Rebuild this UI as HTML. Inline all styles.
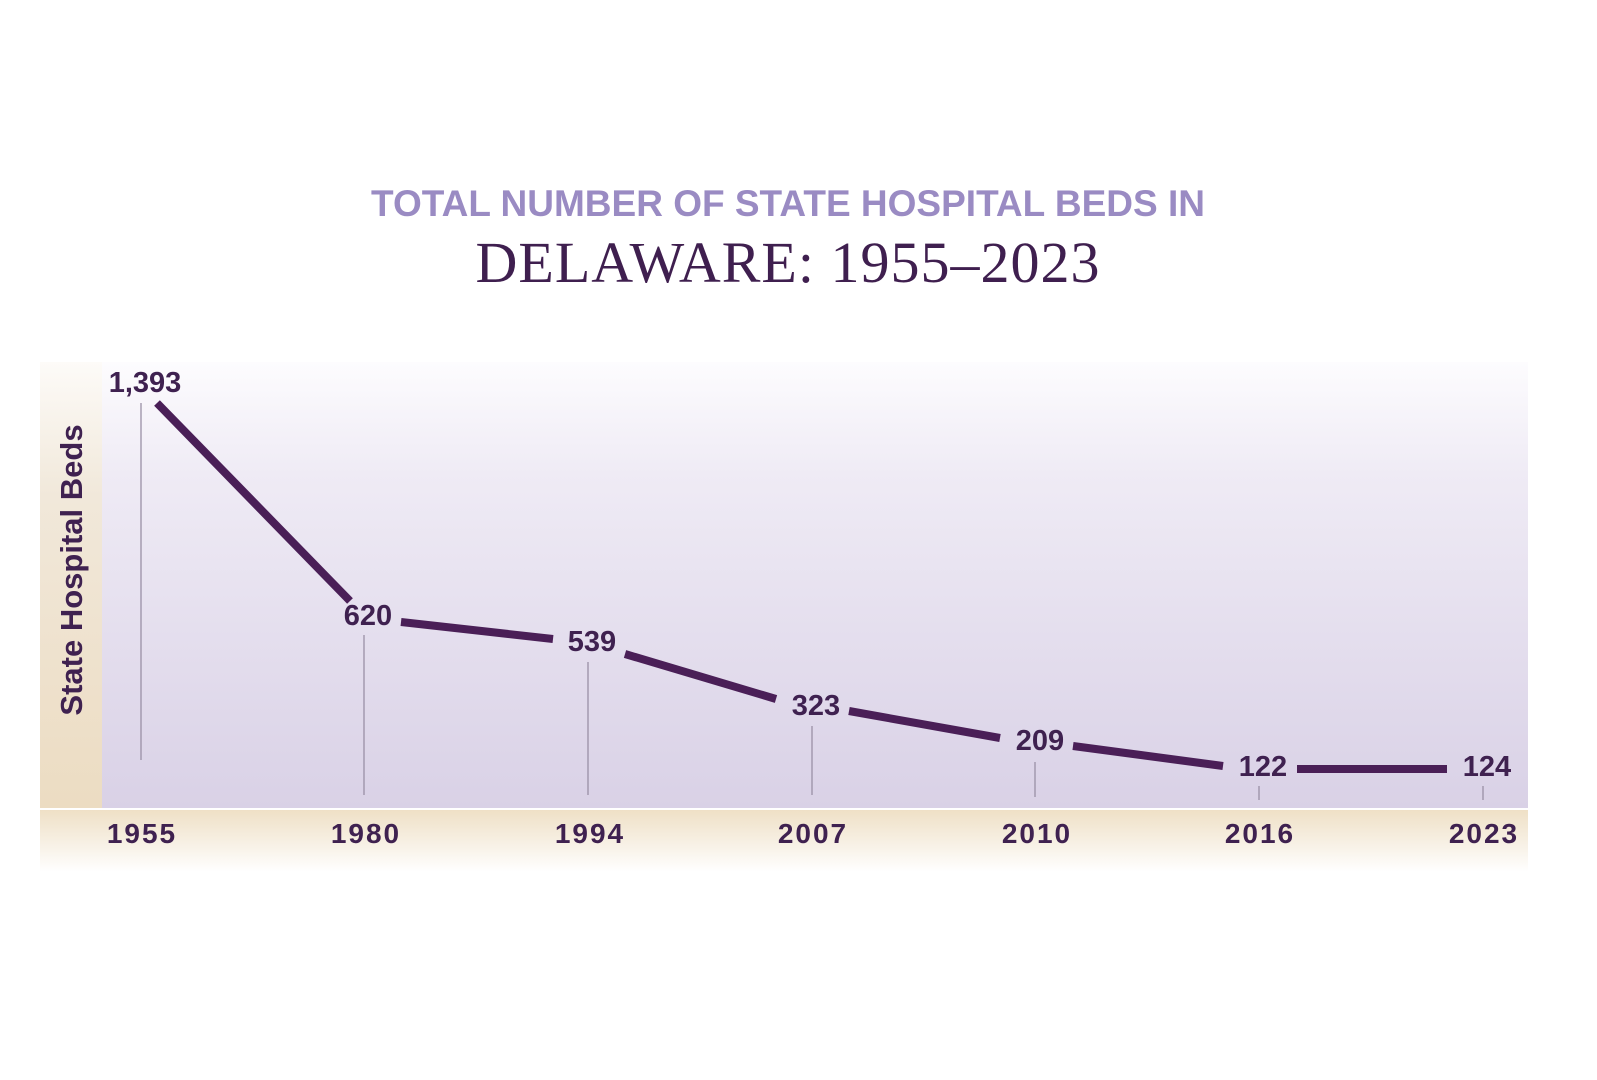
<!DOCTYPE html>
<html><head><meta charset="utf-8"><style>
html,body{margin:0;padding:0;background:#fff;width:1597px;height:1080px;overflow:hidden}
</style></head><body>
<svg width="1597" height="1080" viewBox="0 0 1597 1080" xmlns="http://www.w3.org/2000/svg">
<defs>
<linearGradient id="plot" x1="0" y1="0" x2="0" y2="1">
<stop offset="0" stop-color="#fdfcfe"/><stop offset="0.25" stop-color="#efebf5"/><stop offset="1" stop-color="#d9d1e6"/>
</linearGradient>
<linearGradient id="side" x1="0" y1="0" x2="0" y2="1">
<stop offset="0" stop-color="#fdfbf8"/><stop offset="0.3" stop-color="#f1e8da"/><stop offset="1" stop-color="#ecdcc2"/>
</linearGradient>
<linearGradient id="bot" x1="0" y1="0" x2="0" y2="1">
<stop offset="0" stop-color="#efe0c6"/><stop offset="0.6" stop-color="#f8f2e8"/><stop offset="1" stop-color="#ffffff"/>
</linearGradient>
</defs>
<text x="788" y="216" text-anchor="middle" font-family="Liberation Sans, sans-serif" font-weight="bold" font-size="37" fill="#9a8bc3">TOTAL NUMBER OF STATE HOSPITAL BEDS IN</text>
<text x="788" y="282" text-anchor="middle" font-family="Liberation Serif, serif" font-size="58" fill="#3f1f4f" letter-spacing="1">DELAWARE: 1955–2023</text>
<rect x="40" y="362" width="1488" height="446" fill="url(#plot)"/>
<rect x="40" y="362" width="62" height="446" fill="url(#side)"/>
<rect x="40" y="810" width="1488" height="62" fill="url(#bot)"/>
<g stroke="#9a90a6" stroke-width="1.3">
<line x1="141" y1="403" x2="141" y2="760"/>
<line x1="364" y1="635" x2="364" y2="795"/>
<line x1="588" y1="662" x2="588" y2="795"/>
<line x1="812" y1="726" x2="812" y2="795"/>
<line x1="1035" y1="762" x2="1035" y2="797"/>
<line x1="1259" y1="786" x2="1259" y2="800"/>
<line x1="1483" y1="786" x2="1483" y2="800"/>
</g>
<g stroke="#4a1f57" stroke-width="8" fill="none">
<line x1="157" y1="403" x2="350" y2="601"/>
<line x1="401" y1="622" x2="553" y2="639"/>
<line x1="625" y1="654" x2="776" y2="699"/>
<line x1="849" y1="711" x2="1000" y2="738"/>
<line x1="1073" y1="746" x2="1223" y2="766"/>
<line x1="1297" y1="769" x2="1447" y2="769"/>
</g>
<g font-family="Liberation Sans, sans-serif" font-weight="bold" font-size="29" fill="#3f2150" text-anchor="middle">
<text x="145" y="392">1,393</text>
<text x="368" y="625">620</text>
<text x="592" y="651">539</text>
<text x="816" y="715">323</text>
<text x="1040" y="750">209</text>
<text x="1263" y="776">122</text>
<text x="1487" y="776">124</text>
</g>
<g font-family="Liberation Sans, sans-serif" font-weight="bold" font-size="28" fill="#3f2150" text-anchor="middle" letter-spacing="2">
<text x="142" y="843">1955</text>
<text x="366" y="843">1980</text>
<text x="590" y="843">1994</text>
<text x="813" y="843">2007</text>
<text x="1037" y="843">2010</text>
<text x="1260" y="843">2016</text>
<text x="1484" y="843">2023</text>
</g>
<text transform="translate(82,570) rotate(-90)" text-anchor="middle" font-family="Liberation Sans, sans-serif" font-weight="bold" font-size="31" fill="#3f2150">State Hospital Beds</text>
</svg>
</body></html>
